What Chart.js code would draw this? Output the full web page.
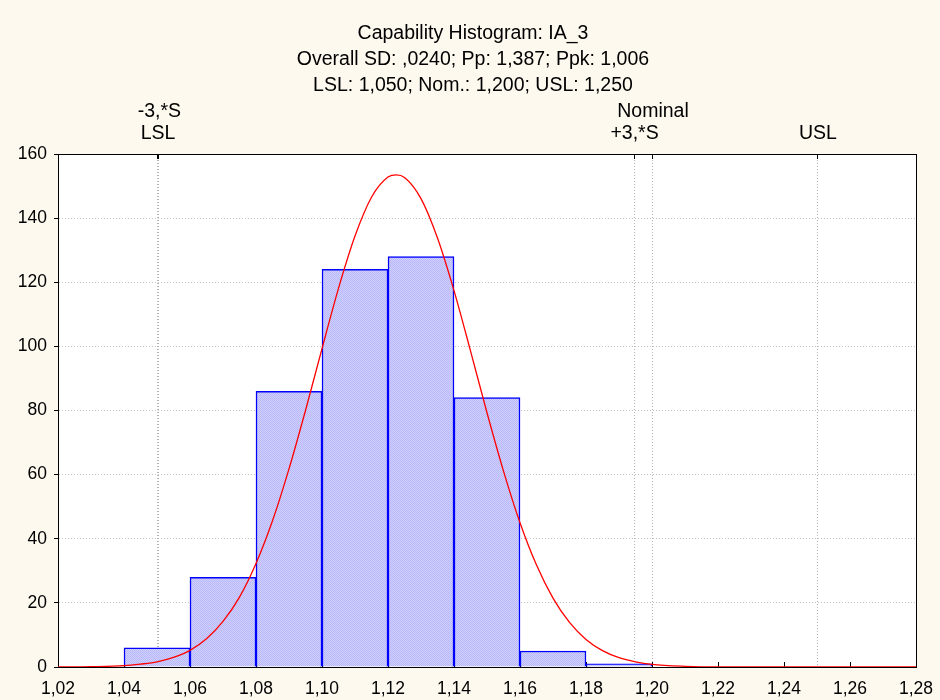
<!DOCTYPE html>
<html>
<head>
<meta charset="utf-8">
<script src="https://cdn.jsdelivr.net/npm/chart.js@4/dist/chart.umd.min.js"></script>
<style>
  body { margin: 0; background: #fdf9ef; }
  canvas { display: block; }
</style>
</head>
<body>
<canvas id="histChart" width="940" height="700"></canvas>
<script>
// Histogramm-Daten
const binCenters = [1.05, 1.07, 1.09, 1.11, 1.13, 1.15, 1.17, 1.19];
const binCounts = [6, 28, 86, 124, 128, 84, 5, 1];

const curveX = [1.02, 1.03, 1.04, 1.045, 1.05, 1.055, 1.06, 1.065, 1.07, 1.075, 1.08, 1.085,
  1.09, 1.095, 1.10, 1.105, 1.11, 1.115, 1.12, 1.1225, 1.125, 1.13, 1.135, 1.14, 1.145,
  1.15, 1.155, 1.16, 1.165, 1.17, 1.175, 1.18, 1.185, 1.19, 1.195, 1.20, 1.21, 1.22, 1.28];
const curveY = [0, 0.1, 0.4, 0.9, 1.6, 3.0, 5.2, 8.8, 14.2, 21.8, 32.3, 45.6,
  61.8, 80.0, 99.3, 118.1, 134.4, 146.5, 152.8, 153.5, 152.7, 146.1, 133.8, 117.4, 98.6,
  79.3, 61.1, 45.0, 31.8, 21.5, 13.9, 8.6, 5.1, 2.9, 1.6, 0.8, 0.2, 0, 0];

// Spezifikationsgrenzen
const specNames = ["LSL", "-3,*S", "+3,*S", "Nominal", "USL"];
const specValues = [1.05, 1.0504, 1.1944, 1.2, 1.25];

const titleLines = [
  "Capability Histogram: IA_3",
  "Overall SD: ,0240; Pp: 1,387; Ppk: 1,006",
  "LSL: 1,050; Nom.: 1,200; USL: 1,250",
];

const FONT = "'Liberation Sans', Arial, sans-serif";

// Schraffur-Muster für die Balken
function makePattern() {
  const c = document.createElement("canvas");
  c.width = 2;
  c.height = 2;
  const p = c.getContext("2d");
  p.fillStyle = "#d0d0fc";
  p.fillRect(0, 0, 2, 2);
  p.fillStyle = "#b8b8f8";
  p.fillRect(0, 0, 1, 1);
  p.fillRect(1, 1, 1, 1);
  return p.createPattern(c, "repeat");
}

const capabilityPlugin = {
  id: "capability",
  beforeDraw(chart) {
    const { ctx, chartArea: a } = chart;
    ctx.save();
    ctx.fillStyle = "#ffffff";
    ctx.fillRect(a.left, a.top, a.right - a.left, a.bottom - a.top);
    // Titel (dreizeilig)
    ctx.font = "19.5px " + FONT;
    ctx.fillStyle = "#000000";
    ctx.textAlign = "center";
    ctx.textBaseline = "middle";
    titleLines.forEach((line, i) => {
      ctx.fillText(line, chart.width / 2 + 3, 34 + i * 26);
    });
    ctx.restore();
  },
  beforeDatasetsDraw(chart) {
    const { ctx, chartArea: a } = chart;
    const xs = chart.scales.x;
    ctx.save();
    // Spezifikationslinien
    ctx.strokeStyle = "#b4b4b4";
    ctx.lineWidth = 1;
    ctx.setLineDash([1, 2]);
    specValues.forEach((v) => {
      const px = Math.round(xs.getPixelForValue(v)) + 0.5;
      ctx.beginPath();
      ctx.moveTo(px, a.top);
      ctx.lineTo(px, a.bottom);
      ctx.stroke();
    });
    ctx.setLineDash([]);
    ctx.strokeStyle = "#000000";
    specValues.forEach((v) => {
      const px = Math.round(xs.getPixelForValue(v)) + 0.5;
      ctx.beginPath();
      ctx.moveTo(px, a.top);
      ctx.lineTo(px, a.top + 5);
      ctx.stroke();
    });
    // Ticks nach innen an der x-Achse
    xs.ticks.forEach((t) => {
      const px = Math.round(xs.getPixelForValue(t.value)) + 0.5;
      ctx.beginPath();
      ctx.moveTo(px, a.bottom);
      ctx.lineTo(px, a.bottom - 5);
      ctx.stroke();
    });
    // Rahmen
    ctx.strokeRect(Math.round(a.left) + 0.5, Math.round(a.top) + 0.5,
      Math.round(a.right - a.left), Math.round(a.bottom - a.top));

    // Beschriftungen der Spezifikationslinien
    ctx.font = "19.5px " + FONT;
    ctx.fillStyle = "#000000";
    ctx.textAlign = "center";
    ctx.textBaseline = "middle";
    const placed = [];
    specNames.forEach((name, i) => {
      const px = xs.getPixelForValue(specValues[i]);
      const w = ctx.measureText(name).width;
      let row = 0;
      while (placed.some((p) => p.row === row && Math.abs(p.x - px) < (p.w + w) / 2 + 4)) {
        row++;
      }
      placed.push({ x: px, w: w, row: row });
      ctx.fillText(name, px + 1, a.top - 20 - row * 22);
    });
    ctx.restore();
  },
};

function createChart() {
  const ctx = document.getElementById("histChart").getContext("2d");
  new Chart(ctx, {
    type: "bar",
    data: {
      datasets: [
        {
          type: "line",
          data: curveX.map((x, i) => ({ x: x, y: curveY[i] })),
          borderColor: "#ff0000",
          borderWidth: 1.3,
          pointRadius: 0,
          cubicInterpolationMode: "monotone",
          fill: false,
          order: 0,
        },
        {
          type: "bar",
          data: binCenters.map((x, i) => ({ x: x, y: binCounts[i] })),
          backgroundColor: makePattern(),
          borderColor: "#0000ff",
          borderWidth: 1.5,
          barPercentage: 1,
          categoryPercentage: 1,
          order: 1,
        },
      ],
    },
    options: {
      responsive: false,
      animation: false,
      layout: { padding: { left: 0, right: 24, top: 154, bottom: 0 } },
      plugins: {
        legend: { display: false },
        tooltip: { enabled: false },
        title: { display: false },
      },
      scales: {
        x: {
          type: "linear",
          offset: false,
          min: 1.02,
          max: 1.28,
          grid: { display: false, drawTicks: false },
          border: { display: true, color: "#000000", width: 1 },
          ticks: {
            stepSize: 0.02,
            color: "#000000",
            padding: 12,
            maxRotation: 0,
            autoSkip: false,
            font: { family: FONT, size: 17.5 },
            callback: (v) => v.toFixed(2).replace(".", ","),
          },
          afterFit: (s) => {
            s.height = 33;
            s.paddingLeft = 0;
            s.paddingRight = 0;
          },
        },
        y: {
          min: 0,
          max: 160,
          grid: {
            color: "#c4c4c4",
            tickColor: "#000000",
            tickLength: 4,
            tickBorderDash: [],
          },
          border: { display: true, color: "#000000", width: 1, dash: [1, 2] },
          ticks: {
            stepSize: 20,
            color: "#000000",
            padding: 7,
            font: { family: FONT, size: 17.5 },
          },
          afterFit: (s) => { s.width = 58; },
        },
      },
    },
    plugins: [capabilityPlugin],
  });
}

document.addEventListener("DOMContentLoaded", createChart);
</script>
</body>
</html>
